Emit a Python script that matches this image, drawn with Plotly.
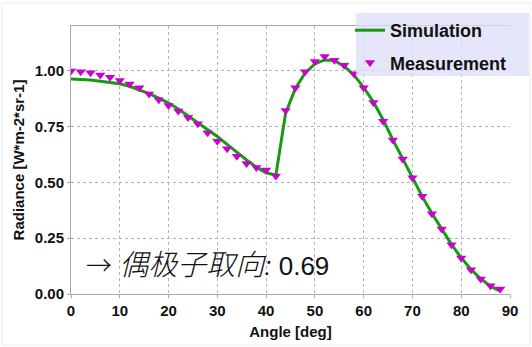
import plotly.graph_objects as go

# ---- data ----
sim_angle = [0, 2, 4, 6, 8, 10, 12, 14, 16, 18, 20, 22, 24, 26, 28, 30, 32, 34, 36, 38, 40, 42,
             44, 46, 48, 50, 52, 54, 56, 58, 60, 62, 64, 66, 68, 70, 72, 74, 76, 78, 80, 82, 84, 86, 88]
sim_radiance = [0.963, 0.962, 0.958, 0.953, 0.948, 0.941, 0.930, 0.915, 0.897, 0.877, 0.855,
                0.828, 0.798, 0.767, 0.737, 0.705, 0.670, 0.633, 0.600, 0.568, 0.543, 0.532,
                0.810, 0.920, 0.990, 1.030, 1.048, 1.045, 1.020, 0.980, 0.925, 0.860, 0.780,
                0.690, 0.605, 0.520, 0.437, 0.360, 0.290, 0.222, 0.162, 0.110, 0.068, 0.035, 0.013]

meas_angle = [0, 2, 4, 6, 8, 10, 12, 14, 16, 18, 20, 22, 24, 26, 28, 30, 32, 34, 36, 38, 40, 42,
              44, 46, 48, 50, 52, 54, 56, 58, 60, 62, 64, 66, 68, 70, 72, 74, 76, 78, 80, 82, 84, 86, 88]
meas_radiance = [0.998, 0.995, 0.991, 0.981, 0.970, 0.956, 0.940, 0.923, 0.895, 0.870, 0.844,
                 0.819, 0.790, 0.762, 0.722, 0.684, 0.650, 0.617, 0.584, 0.566, 0.555, 0.528,
                 0.822, 0.924, 0.995, 1.041, 1.063, 1.047, 1.024, 0.986, 0.924, 0.857, 0.774,
                 0.689, 0.605, 0.520, 0.438, 0.359, 0.291, 0.221, 0.161, 0.109, 0.067, 0.037, 0.022]

x_ticks = [0, 10, 20, 30, 40, 50, 60, 70, 80, 90]
y_ticks = [0.0, 0.25, 0.5, 0.75, 1.0]
y_tick_labels = ["0.00", "0.25", "0.50", "0.75", "1.00"]

GREEN = "#169a16"
MAGENTA = "#cc00cc"
BOLD = dict(family="Liberation Sans, Arial, sans-serif", weight="bold", color="#111111")

PW, PH = 439, 268  # plot area size in px
L, T = 71, 26

fig = go.Figure()
fig.add_trace(go.Scatter(
    x=sim_angle, y=sim_radiance, mode="lines", name="Simulation",
    line=dict(color=GREEN, width=3), legendgroup="a"))
fig.add_trace(go.Scatter(
    x=meas_angle, y=meas_radiance, mode="markers", name="Measurement",
    marker=dict(symbol="triangle-down", size=9, color=MAGENTA), legendgroup="b"))

def px_x(px):
    return (px - L) / PW

def px_y(py):
    return (T + PH - py) / PH

fig.update_layout(
    width=532, height=347,
    margin=dict(l=71, r=22, t=26, b=53, autoexpand=False),
    paper_bgcolor="white", plot_bgcolor="white",
    showlegend=True,
    legend=dict(
        x=px_x(350), y=px_y(12), xanchor="left", yanchor="top",
        bgcolor="rgba(0,0,0,0)", borderwidth=0,
        font=dict(size=18, **BOLD),
        tracegroupgap=6, traceorder="grouped",
        itemwidth=30,
    ),
    xaxis=dict(
        range=[0, 90], tickvals=x_ticks, automargin=False,
        showgrid=True, gridcolor="#b4b4b4", griddash="dot", gridwidth=1,
        showline=True, linecolor="#a8a8a8", linewidth=1, mirror=True,
        ticks="outside", ticklen=3, tickcolor="#a8a8a8",
        tickfont=dict(size=15, **BOLD),
        title=dict(text="Angle [deg]", font=dict(size=15, **BOLD), standoff=8),
        zeroline=False,
    ),
    yaxis=dict(
        range=[0, 1.2], tickvals=y_ticks, ticktext=y_tick_labels, automargin=False,
        showgrid=True, gridcolor="#b4b4b4", griddash="dot", gridwidth=1,
        showline=True, linecolor="#a8a8a8", linewidth=1,
        ticks="outside", ticklen=3, tickcolor="#a8a8a8",
        tickfont=dict(size=15, **BOLD),
        title=dict(text="Radiance [W*m-2*sr-1]", font=dict(size=15, **BOLD), standoff=6),
        zeroline=False,
    ),
)

fig.add_annotation(
    x=2.7, y=0.145, xref="x", yref="y", xanchor="left", yanchor="middle",
    text=("<span style=\"font-family:'Noto Sans CJK SC';font-weight:300\">→</span> "
          "<i><span style=\"font-family:'Noto Sans CJK SC';font-size:29px;font-weight:300\">偶极子取向</span>:</i> 0.69"),
    showarrow=False,
    font=dict(family="Liberation Sans, Noto Sans CJK SC, sans-serif", size=26, color="#111111"),
)

# legend background box
fig.add_shape(type="rect", xref="paper", yref="paper",
              x0=px_x(356), x1=px_x(529), y0=px_y(76), y1=px_y(13),
              line=dict(width=0), fillcolor="rgba(222,222,250,0.75)", layer="above")

# faint outer frame
fig.add_shape(type="rect", xref="paper", yref="paper",
              x0=px_x(2), x1=px_x(530), y0=px_y(345), y1=px_y(3),
              line=dict(color="#ececec", width=1), layer="below")

fig.write_html("out.html")
